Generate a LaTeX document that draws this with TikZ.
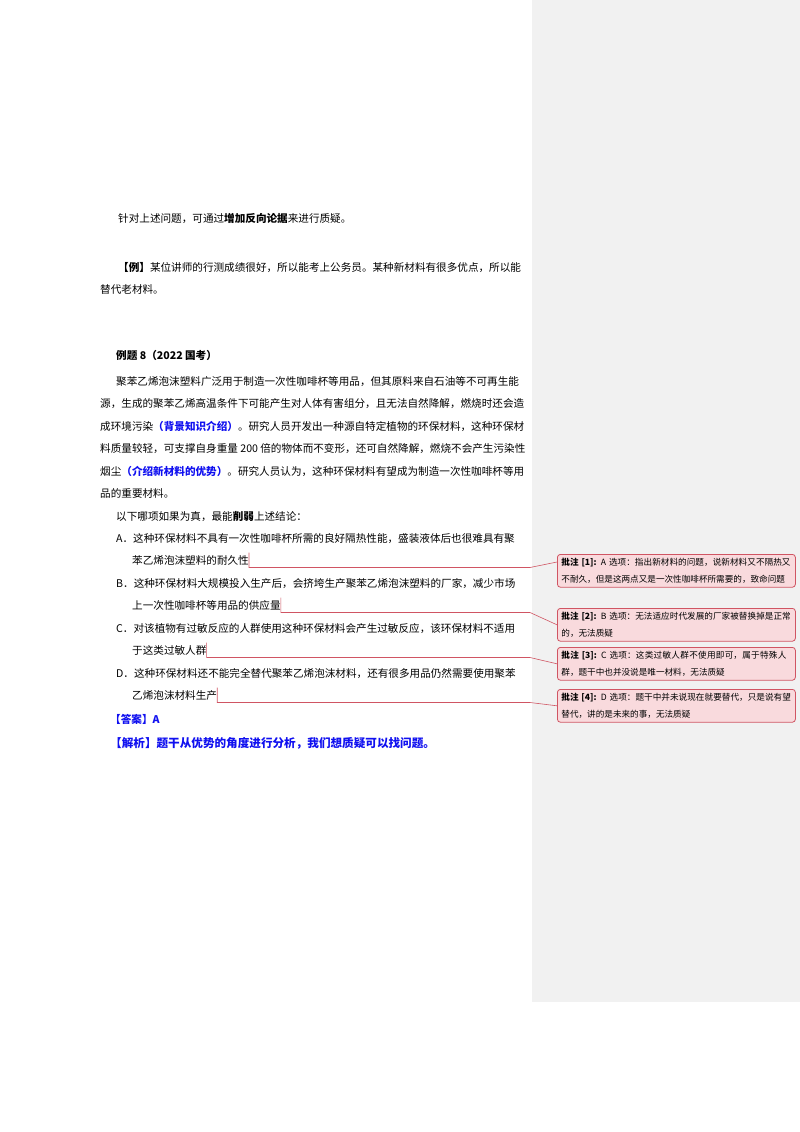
\documentclass[tikz,border=0pt]{standalone}
\usepackage{fontspec}
\setmainfont{Noto Sans CJK SC}
\XeTeXlinebreaklocale "zh"
\XeTeXlinebreakskip=0pt plus 1pt
\definecolor{cfill}{HTML}{F9DADD}
\definecolor{cline}{HTML}{D05563}
\definecolor{panel}{HTML}{F1F1F1}
\definecolor{bl}{HTML}{1010F0}
\begin{document}
\begin{tikzpicture}[x=1pt,y=-1pt,
  t/.style={anchor=base west,inner sep=0pt,font=\fontsize{10.6}{12}\selectfont},
  cmt/.style={anchor=north west,draw=cline,fill=cfill,rounded corners=3pt,line width=0.8pt,
     text width=230pt,inner sep=4pt,align=left,font=\fontsize{8.6}{16.5}\selectfont},
  lk/.style={draw=cline,line width=0.6pt}]
\useasboundingbox (0,0) rectangle (800,1132);
\fill[white] (0,0) rectangle (800,1132);
\fill[panel] (532,0) rectangle (800,1002);
\node[t] (l0) at (118,222) {针对上述问题，可通过\textbf{增加反向论据}来进行质疑。};
\node[t] (l1) at (118,271) {\textbf{【例】}某位讲师的行测成绩很好，所以能考上公务员。某种新材料有很多优点，所以能};
\node[t] (l2) at (100,293) {替代老材料。};
\node[t] (h) at (116,359) {\textbf{例题 8（2022 国考）}};
\node[t] (p1) at (116,385) {聚苯乙烯泡沫塑料广泛用于制造一次性咖啡杯等用品，但其原料来自石油等不可再生能};
\node[t] (p2) at (100,407.5) {源，生成的聚苯乙烯高温条件下可能产生对人体有害组分，且无法自然降解，燃烧时还会造};
\node[t] (p3) at (100,430) {成环境污染\textcolor{bl}{\textbf{（背景知识介绍）}}。研究人员开发出一种源自特定植物的环保材料，这种环保材};
\node[t] (p4) at (100,452.5) {料质量较轻，可支撑自身重量 200 倍的物体而不变形，还可自然降解，燃烧不会产生污染性};
\node[t] (p5) at (100,475) {烟尘\textcolor{bl}{\textbf{（介绍新材料的优势）}}。研究人员认为，这种环保材料有望成为制造一次性咖啡杯等用};
\node[t] (p6) at (100,497.5) {品的重要材料。};
\node[t] (q) at (116,520) {以下哪项如果为真，最能\textbf{削弱}上述结论：};
\node[t] (a1) at (116,542) {A．这种环保材料不具有一次性咖啡杯所需的良好隔热性能，盛装液体后也很难具有聚};
\node[t] (a2) at (132,564.5) {苯乙烯泡沫塑料的耐久性};
\node[t] (b1) at (116,587) {B．这种环保材料大规模投入生产后，会挤垮生产聚苯乙烯泡沫塑料的厂家，减少市场};
\node[t] (b2) at (132,609.5) {上一次性咖啡杯等用品的供应量};
\node[t] (c1) at (116,632) {C．对该植物有过敏反应的人群使用这种环保材料会产生过敏反应，该环保材料不适用};
\node[t] (c2) at (132,654.5) {于这类过敏人群};
\node[t] (d1) at (116,677) {D．这种环保材料还不能完全替代聚苯乙烯泡沫材料，还有很多用品仍然需要使用聚苯};
\node[t] (d2) at (132,699.5) {乙烯泡沫材料生产};
\node[t,text=bl] (ans) at (110,723.5) {\textbf{【答案】A}};
\node[t,text=bl,font=\fontsize{11.6}{12}\selectfont] (ana) at (110,747.5) {\textbf{【解析】题干从优势的角度进行分析，我们想质疑可以找问题。}};
\node[cmt] (k1) at (557,554) {\textbf{批注 [1]:} A 选项：指出新材料的问题，说新材料又不隔热又不耐久，但是这两点又是一次性咖啡杯所需要的，致命问题};
\node[cmt] (k2) at (557,608) {\textbf{批注 [2]:} B 选项：无法适应时代发展的厂家被替换掉是正常的，无法质疑};
\node[cmt] (k3) at (557,647) {\textbf{批注 [3]:} C 选项：这类过敏人群不使用即可，属于特殊人群，题干中也并没说是唯一材料，无法质疑};
\node[cmt] (k4) at (557,689) {\textbf{批注 [4]:} D 选项：题干中并未说现在就要替代，只是说有望替代，讲的是未来的事，无法质疑};
\coordinate (ea) at (a2.base east); \coordinate (eb) at (b2.base east);
\coordinate (ec) at (c2.base east); \coordinate (ed) at (d2.base east);
\draw[lk] ([yshift=12pt]ea) -- ([yshift=-3pt]ea) -- (530,567.5) -- ([yshift=-8pt]k1.north west);
\draw[lk] ([yshift=12pt]eb) -- ([yshift=-3pt]eb) -- (530,612.5) -- (k2.west);
\draw[lk] ([yshift=12pt]ec) -- ([yshift=-3pt]ec) -- (530,657.5) -- (k3.west);
\draw[lk] ([yshift=12pt]ed) -- ([yshift=-3pt]ed) -- (530,702.5) -- (k4.west);
\end{tikzpicture}
\end{document}
